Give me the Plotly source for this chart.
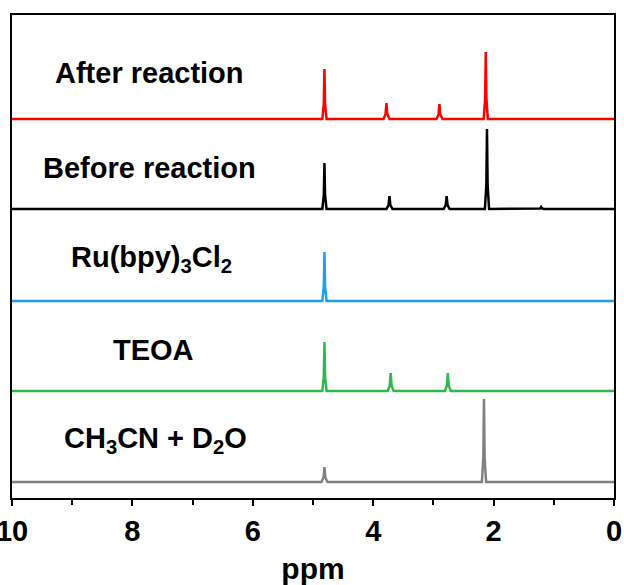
import plotly.graph_objects as go

# ---- data ----
names = ["After reaction", "Before reaction", "Ru(bpy)<sub>3</sub>Cl<sub>2</sub>", "TEOA",
         "CH<sub>3</sub>CN + D<sub>2</sub>O"]
colors = ["#ff0000", "#000000", "#1ea1e3", "#2fb84c", "#808080"]
offsets = [379, 289, 197, 107, 16]

after_ppm = [4.81, 3.78, 2.90, 2.13]
after_int = [50, 16, 15, 67]
before_ppm = [4.81, 3.73, 2.78, 2.11, 1.21]
before_int = [46, 13, 13, 80, 2]
ru_ppm = [8.6, 7.9, 7.4, 4.81]
ru_int = [0.6, 0.6, 0.6, 49]
teoa_ppm = [4.81, 3.71, 2.76]
teoa_int = [49, 18, 18]
solv_ppm = [4.81, 2.16]
solv_int = [15, 83]

peaks_ppm = [after_ppm, before_ppm, ru_ppm, teoa_ppm, solv_ppm]
peaks_int = [after_int, before_int, ru_int, teoa_int, solv_int]

label_x = [7.72, 7.72, 7.69, 7.65, 7.62]
label_y = [425, 330, 239, 148, 58]

x_ticks = [10, 8, 6, 4, 2, 0]

FONT = "Liberation Sans, Arial"

fig = go.Figure()

for ppm, inten, off, col in zip(peaks_ppm, peaks_int, offsets, colors):
    order = sorted(zip(ppm, inten), reverse=True)
    xs, ys = [10.0], [off]
    for p, h in order:
        w = 0.05 if h < 30 else 0.035
        xs += [p + w, p + w * 0.3, p, p - w * 0.3, p - w]
        ys += [off, off + h * 0.3, off + h, off + h * 0.3, off]
    xs.append(0.0)
    ys.append(off)
    fig.add_trace(go.Scatter(x=xs, y=ys, mode="lines",
                             line=dict(color=col, width=2.5),
                             showlegend=False, hoverinfo="skip"))

for name, lx, ly in zip(names, label_x, label_y):
    fig.add_annotation(x=lx, y=ly, text="<b>" + name + "</b>", showarrow=False,
                       font=dict(family=FONT, size=29, color="black"),
                       xanchor="center", yanchor="middle")

fig.update_layout(
    width=624, height=585,
    margin=dict(l=12, r=10, t=15, b=87),
    plot_bgcolor="white", paper_bgcolor="white",
    font=dict(family=FONT, color="black"),
)
fig.update_xaxes(
    range=[10, 0], tickvals=x_ticks, ticktext=["<b>%d</b>" % t for t in x_ticks],
    ticks="outside", ticklen=6, tickwidth=2, tickcolor="black",
    minor=dict(dtick=1, ticks="outside", ticklen=5, tickwidth=2, tickcolor="black"),
    showline=True, linecolor="black", linewidth=2, mirror=True,
    showgrid=False, zeroline=False, automargin=False,
    ticklabeloverflow="allow",
    tickfont=dict(size=29, family=FONT),
    title=dict(text="<b>ppm</b>", font=dict(size=30, family=FONT), standoff=12),
)
fig.update_yaxes(
    range=[0, 483], showticklabels=False, ticks="",
    showline=True, linecolor="black", linewidth=2, mirror=True,
    showgrid=False, zeroline=False, automargin=False,
)

fig.write_html("out.html")
